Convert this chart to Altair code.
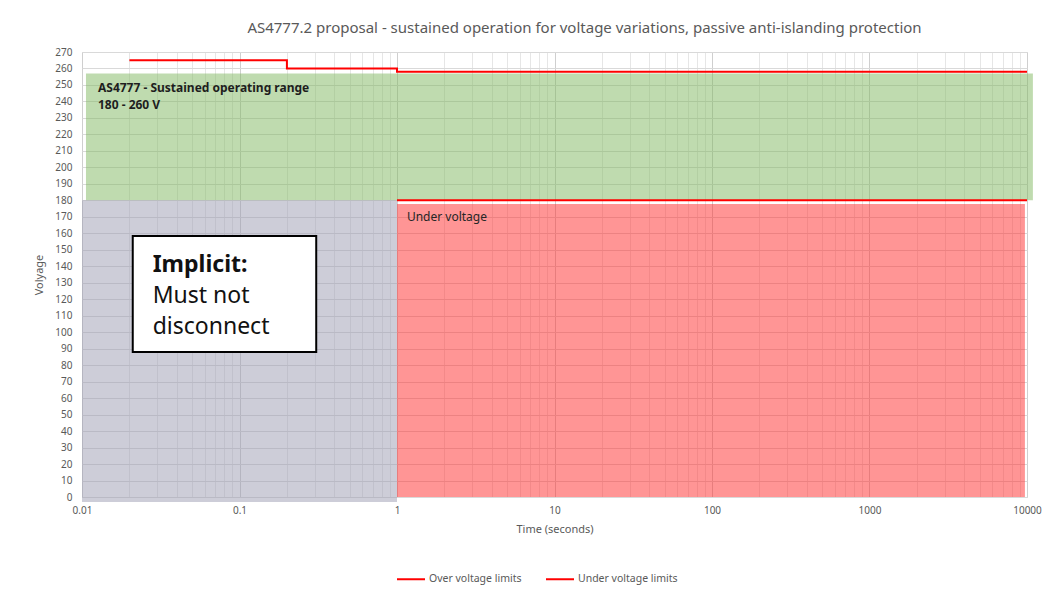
import altair as alt
import pandas as pd

# ---- data ----
over_t = [0.02, 0.2, 0.2, 1, 1, 10000]
over_v = [265, 265, 260, 260, 258, 258]
under_t = [1, 10000]
under_v = [180, 180]

zone_names = ["sustained", "implicit", "under"]
zone_t0 = [0.0106, 0.01, 1]
zone_t1 = [10900, 1, 9700]
zone_v0 = [180, -3, 0]
zone_v1 = [257, 180, 177.8]
zone_colors = ["#7fb860", "#9b9bb1", "#ff2b2b"]

x_ticks = [m * d for d in [0.01, 0.1, 1, 10, 100, 1000] for m in range(1, 10)] + [10000]
y_ticks = list(range(0, 280, 10))

FONT = "Noto Sans"
GREY = "#595959"

lines = pd.DataFrame(
    [{"t": t, "v": v, "series": "Over voltage limits", "i": i} for i, (t, v) in enumerate(zip(over_t, over_v))]
    + [{"t": t, "v": v, "series": "Under voltage limits", "i": i} for i, (t, v) in enumerate(zip(under_t, under_v))]
)
zones = pd.DataFrame({"zone": zone_names, "t0": zone_t0, "t1": zone_t1, "v0": zone_v0, "v1": zone_v1})

is_decade = "abs(log(datum.value)/LN10 - round(log(datum.value)/LN10)) < 1e-6"

xscale = alt.Scale(type="log", domain=[0.01, 10000], nice=False)
yscale = alt.Scale(domain=[0, 270], nice=False)

xaxis = alt.Axis(
    values=x_ticks, format="~g", labelExpr=f"{is_decade} ? datum.label : ''",
    labelOverlap=False, labelFlush=False, ticks=False, domain=False,
    gridColor=alt.condition(is_decade, alt.value("#cfcfcf"), alt.value("#e6e6e6")),
    labelColor=GREY, labelFont=FONT, labelFontSize=10, labelPadding=8,
    title="Time (seconds)", titleColor=GREY, titleFont=FONT, titleFontSize=11,
    titleFontWeight="normal", titlePadding=8,
)
yaxis = alt.Axis(
    values=y_ticks, ticks=False, domain=False, gridColor="#d9d9d9",
    labelOverlap=False, labelFlush=False,
    labelColor=GREY, labelFont=FONT, labelFontSize=10, labelPadding=10,
    title="Volyage", titleColor=GREY, titleFont=FONT, titleFontSize=11,
    titleFontWeight="normal", titlePadding=10,
)


def X(field):
    return alt.X(field, scale=xscale, axis=xaxis)


def Y(field):
    return alt.Y(field, scale=yscale, axis=yaxis)


rects = alt.Chart(zones).mark_rect(opacity=0.5).encode(
    x=X("t0:Q"),
    x2="t1:Q",
    y=Y("v0:Q"),
    y2="v1:Q",
    color=alt.Color("zone:N", scale=alt.Scale(domain=zone_names, range=zone_colors), legend=None),
)

line_layer = alt.Chart(lines).mark_line(strokeWidth=2, interpolate="linear").encode(
    x=X("t:Q"),
    y=Y("v:Q"),
    order="i:Q",
    detail="series:N",
    stroke=alt.Stroke(
        "series:N",
        scale=alt.Scale(domain=["Over voltage limits", "Under voltage limits"], range=["#ff0000", "#ff0000"]),
        legend=alt.Legend(
            title=None, orient="none", direction="horizontal", legendX=314, legendY=512,
            symbolType="stroke", symbolSize=784, symbolStrokeWidth=2,
            labelFont=FONT, labelFontSize=10.5, labelColor=GREY, labelOffset=3,
            columnPadding=20,
        ),
    ),
)

# annotation box
box_df = pd.DataFrame({"t0": [0.021], "t1": [0.307], "v0": [88], "v1": [158.4]})
box = alt.Chart(box_df).mark_rect(fill="white", stroke="black", strokeWidth=2).encode(
    x=X("t0:Q"), x2="t1:Q", y=Y("v0:Q"), y2="v1:Q"
)

labels = pd.DataFrame({
    "t": [0.01263, 0.01263, 1.156, 0.0281, 0.0281, 0.0281],
    "v": [248.2, 237.9, 169.9, 140.8, 122.0, 103.2],
    "txt": ["AS4777 - Sustained operating range", "180 - 260 V", "Under voltage",
            "Implicit:", "Must not", "disconnect"],
})


def txt_layer(df, weight, size, color):
    return alt.Chart(df).mark_text(
        align="left", baseline="middle", font=FONT, fontWeight=weight, fontSize=size, color=color
    ).encode(x=X("t:Q"), y=Y("v:Q"), text="txt:N")


t_small_bold = txt_layer(labels.iloc[0:2], "bold", 12, "#1e1e1e")
t_small = txt_layer(labels.iloc[2:3], "normal", 12, "#262626")
t_big_bold = txt_layer(labels.iloc[3:4], "bold", 23, "#111111")
t_big = txt_layer(labels.iloc[4:6], "normal", 23, "#111111")

chart = alt.layer(
    rects, line_layer, box, t_small_bold, t_small, t_big_bold, t_big
).resolve_scale(color="independent", stroke="independent").properties(
    width=945, height=445,
    autosize="none",
    padding={"left": 74, "top": 44, "right": 15, "bottom": 94},
    title=alt.TitleParams(
        "AS4777.2 proposal - sustained operation for voltage variations, passive anti-islanding protection",
        font=FONT, fontSize=15, fontWeight="normal", color=GREY, anchor="middle", dx=30, offset=11,
    ),
).configure_view(stroke="#d9d9d9").configure(background="white")

chart.save("out.html", embed_options={"renderer": "svg", "actions": False})
